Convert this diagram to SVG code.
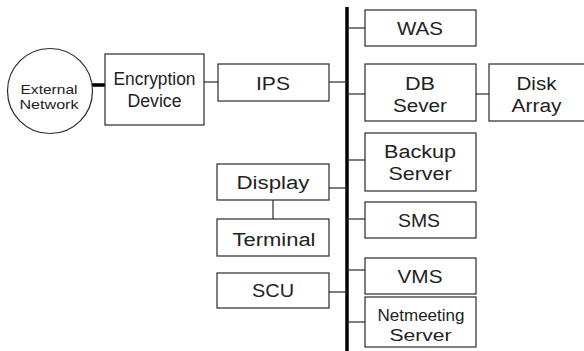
<svg xmlns="http://www.w3.org/2000/svg" width="584" height="351" viewBox="0 0 584 351">
<style>
.box{fill:#fff;stroke:#2a2a2a;stroke-width:1.2}
.ln{stroke:#2a2a2a;stroke-width:1.2;fill:none}
.thick{stroke:#000;stroke-width:3.5}
text{font-family:"Liberation Sans",Arial,sans-serif;font-size:18px;fill:#222;text-anchor:middle}
.sm{font-size:13px}
.md{font-size:16px}
</style>
<rect width="584" height="351" fill="#fff"/>
<g id="connectors">
<line class="thick" x1="347" y1="7" x2="347" y2="351"/>
<line class="thick" x1="92" y1="85" x2="105" y2="85"/>
<line class="ln" x1="204" y1="82" x2="218" y2="82"/>
<line class="ln" x1="329" y1="82" x2="347" y2="82"/>
<line class="ln" x1="347" y1="28" x2="365" y2="28"/>
<line class="ln" x1="347" y1="94" x2="365" y2="94"/>
<line class="ln" x1="476" y1="94" x2="489" y2="94"/>
<line class="ln" x1="347" y1="160" x2="365" y2="160"/>
<line class="ln" x1="329" y1="188" x2="347" y2="188"/>
<line class="ln" x1="273" y1="200" x2="273" y2="219"/>
<line class="ln" x1="347" y1="219" x2="365" y2="219"/>
<line class="ln" x1="347" y1="270" x2="365" y2="270"/>
<line class="ln" x1="329" y1="292" x2="347" y2="292"/>
<line class="ln" x1="347" y1="322" x2="365" y2="322"/>
</g>
<g id="external"><circle class="box" cx="50" cy="91" r="42.5"/><text class="sm" x="49" y="94" textLength="57" lengthAdjust="spacingAndGlyphs">External</text><text class="sm" x="49" y="108.5" textLength="59" lengthAdjust="spacingAndGlyphs">Network</text></g>
<g id="encryption"><rect class="box" x="105" y="54" width="99" height="71"/><text x="154.5" y="85" textLength="82" lengthAdjust="spacingAndGlyphs">Encryption</text><text x="154.5" y="106.5" textLength="54" lengthAdjust="spacingAndGlyphs">Device</text></g>
<g id="ips"><rect class="box" x="218" y="64" width="111" height="37"/><text x="273" y="89.5" textLength="34" lengthAdjust="spacingAndGlyphs">IPS</text></g>
<g id="was"><rect class="box" x="365" y="10" width="111" height="36"/><text x="420" y="35" textLength="46" lengthAdjust="spacingAndGlyphs">WAS</text></g>
<g id="db"><rect class="box" x="365" y="64" width="111" height="57"/><text x="420" y="90" textLength="30" lengthAdjust="spacingAndGlyphs">DB</text><text x="420" y="111.5" textLength="54" lengthAdjust="spacingAndGlyphs">Sever</text></g>
<g id="disk"><rect class="box" x="489" y="64" width="96" height="57"/><text x="536.5" y="90" textLength="40" lengthAdjust="spacingAndGlyphs">Disk</text><text x="536.5" y="111.5" textLength="50" lengthAdjust="spacingAndGlyphs">Array</text></g>
<g id="backup"><rect class="box" x="365" y="133" width="111" height="58"/><text x="420" y="158" textLength="72" lengthAdjust="spacingAndGlyphs">Backup</text><text x="420" y="180" textLength="63" lengthAdjust="spacingAndGlyphs">Server</text></g>
<g id="display"><rect class="box" x="217" y="164" width="112" height="36"/><text x="273" y="188.5" textLength="73" lengthAdjust="spacingAndGlyphs">Display</text></g>
<g id="terminal"><rect class="box" x="217" y="219" width="112" height="37"/><text x="274" y="246" textLength="83" lengthAdjust="spacingAndGlyphs">Terminal</text></g>
<g id="sms"><rect class="box" x="365" y="202" width="111" height="36"/><text x="419" y="226.5" textLength="42" lengthAdjust="spacingAndGlyphs">SMS</text></g>
<g id="vms"><rect class="box" x="365" y="258" width="111" height="36"/><text x="420" y="282.5" textLength="45" lengthAdjust="spacingAndGlyphs">VMS</text></g>
<g id="scu"><rect class="box" x="217" y="273" width="112" height="35"/><text x="273" y="297" textLength="42" lengthAdjust="spacingAndGlyphs">SCU</text></g>
<g id="netmeeting"><rect class="box" x="365" y="297" width="111" height="50"/><text class="md" x="421" y="320.5" textLength="87" lengthAdjust="spacingAndGlyphs">Netmeeting</text><text class="md" x="420.5" y="341" textLength="62" lengthAdjust="spacingAndGlyphs">Server</text></g>
</svg>
